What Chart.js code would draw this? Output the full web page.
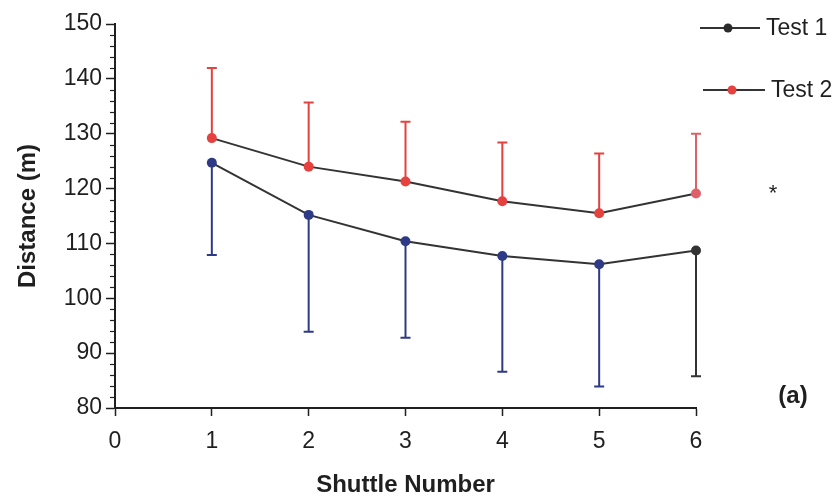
<!DOCTYPE html>
<html>
<head>
<meta charset="utf-8">
<script src="https://cdn.jsdelivr.net/npm/chart.js@4.4.1/dist/chart.umd.min.js"></script>
<style>
  html, body { margin: 0; padding: 0; background: #fff; }
  #wrap { width: 837px; height: 500px; }
</style>
</head>
<body>
<div id="wrap"><canvas id="shuttleChart" width="837" height="500"></canvas></div>
<script>
// Mean distance per shuttle, with one-sided SD bars
const shuttles = [1, 2, 3, 4, 5, 6];
const test1Mean = [124.7, 115.2, 110.4, 107.7, 106.2, 108.7];
const test1Low = [107.9, 93.9, 92.8, 86.6, 83.9, 85.8];
const test2Mean = [129.2, 124.0, 121.3, 117.7, 115.5, 119.1];
const test2High = [142.0, 135.7, 132.2, 128.4, 126.4, 130.0];
const seriesNames = ["Test 1", "Test 2"];

const FONT = "'Liberation Sans', Arial, sans-serif";
const INK = "#1f1f1f";
const NAVY = "#2f3a86";
const RED = "#e5413f";

// blue bars + markers, the last shuttle is printed in black
const t1Colors = shuttles.map((s, i) => i === shuttles.length - 1 ? "#333333" : NAVY);
const t2Colors = shuttles.map((s, i) => i === shuttles.length - 1 ? "#e0606a" : RED);

const errorBars = {
  id: "errorBars",
  beforeDatasetsDraw(chart) {
    const { ctx, scales: { x, y } } = chart;
    ctx.save();
    ctx.lineWidth = 2;
    const bar = (sx, from, to, color) => {
      const px = x.getPixelForValue(sx);
      const y0 = y.getPixelForValue(from);
      const y1 = y.getPixelForValue(to);
      ctx.strokeStyle = color;
      ctx.beginPath();
      ctx.moveTo(px, y0);
      ctx.lineTo(px, y1);
      ctx.moveTo(px - 5, y1);
      ctx.lineTo(px + 5, y1);
      ctx.stroke();
    };
    shuttles.forEach((s, i) => {
      bar(s, test2Mean[i], test2High[i], t2Colors[i]);
      bar(s, test1Mean[i], test1Low[i], t1Colors[i]);
    });
    ctx.restore();
  }
};

const extras = {
  id: "extras",
  afterDraw(chart) {
    const { ctx, scales: { y } } = chart;
    ctx.save();
    // minor ticks on the y axis every 2 m
    ctx.strokeStyle = INK;
    ctx.lineWidth = 1.2;
    for (let v = y.min; v <= y.max; v += 2) {
      if (v % 10 === 0) continue;
      const py = Math.round(y.getPixelForValue(v)) + 0.5;
      ctx.beginPath();
      ctx.moveTo(y.right - 5, py);
      ctx.lineTo(y.right, py);
      ctx.stroke();
    }

    // legend: line with a marker in the middle
    const items = [
      { y: 28, x0: 700, x1: 760, dot: 728, color: "#2b2b2b", text: seriesNames[0] },
      { y: 90, x0: 703, x1: 765, dot: 732, color: RED, text: seriesNames[1] }
    ];
    items.forEach(it => {
      ctx.strokeStyle = "#333";
      ctx.lineWidth = 2;
      ctx.beginPath();
      ctx.moveTo(it.x0, it.y);
      ctx.lineTo(it.x1, it.y);
      ctx.stroke();
      ctx.fillStyle = it.color;
      ctx.beginPath();
      ctx.arc(it.dot, it.y, 4.5, 0, Math.PI * 2);
      ctx.fill();
      ctx.fillStyle = INK;
      ctx.font = "23px " + FONT;
      ctx.textBaseline = "middle";
      ctx.textAlign = "left";
      ctx.fillText(it.text, it.x1 + 6, it.y + 1);
    });

    ctx.fillStyle = INK;
    ctx.font = "22px " + FONT;
    ctx.textAlign = "center";
    ctx.fillText("*", 773, 194);
    ctx.font = "bold 24px " + FONT;
    ctx.fillText("(a)", 793, 396);
    ctx.restore();
  }
};

new Chart(document.getElementById("shuttleChart"), {
  type: "line",
  data: {
    datasets: [
      {
        label: seriesNames[0],
        data: shuttles.map((s, i) => ({ x: s, y: test1Mean[i] })),
        borderColor: "#333333",
        borderWidth: 2,
        pointRadius: 5,
        pointBackgroundColor: t1Colors,
        pointBorderWidth: 0,
        tension: 0,
        clip: false
      },
      {
        label: seriesNames[1],
        data: shuttles.map((s, i) => ({ x: s, y: test2Mean[i] })),
        borderColor: "#333333",
        borderWidth: 2,
        pointRadius: 5,
        pointBackgroundColor: t2Colors,
        pointBorderWidth: 0,
        tension: 0,
        clip: false
      }
    ]
  },
  options: {
    responsive: false,
    animation: false,
    layout: { padding: { top: 24, right: 141, bottom: 0, left: 0 } },
    plugins: {
      legend: { display: false },
      tooltip: { enabled: false }
    },
    scales: {
      x: {
        type: "linear",
        min: 0,
        max: 6,
        afterFit: s => { s.height = 92; },
        ticks: { stepSize: 1, color: INK, padding: 12, font: { family: FONT, size: 23 } },
        grid: { drawOnChartArea: false, drawTicks: true, tickLength: 8, tickColor: INK, tickWidth: 1.5 },
        border: { color: INK, width: 2 },
        title: {
          display: true,
          text: "Shuttle Number",
          color: INK,
          font: { family: FONT, size: 24, weight: "bold" },
          padding: { top: 0, bottom: 0 }
        }
      },
      y: {
        min: 80,
        max: 150,
        afterFit: s => { s.width = 115; },
        ticks: { stepSize: 10, color: INK, padding: 4, font: { family: FONT, size: 23 } },
        grid: { drawOnChartArea: false, drawTicks: true, tickLength: 9, tickColor: INK, tickWidth: 1.5 },
        border: { color: INK, width: 2 },
        title: {
          display: true,
          text: "Distance (m)",
          color: INK,
          font: { family: FONT, size: 24, weight: "bold" },
          padding: { top: 14, bottom: 0 }
        }
      }
    }
  },
  plugins: [errorBars, extras]
});
</script>
</body>
</html>
